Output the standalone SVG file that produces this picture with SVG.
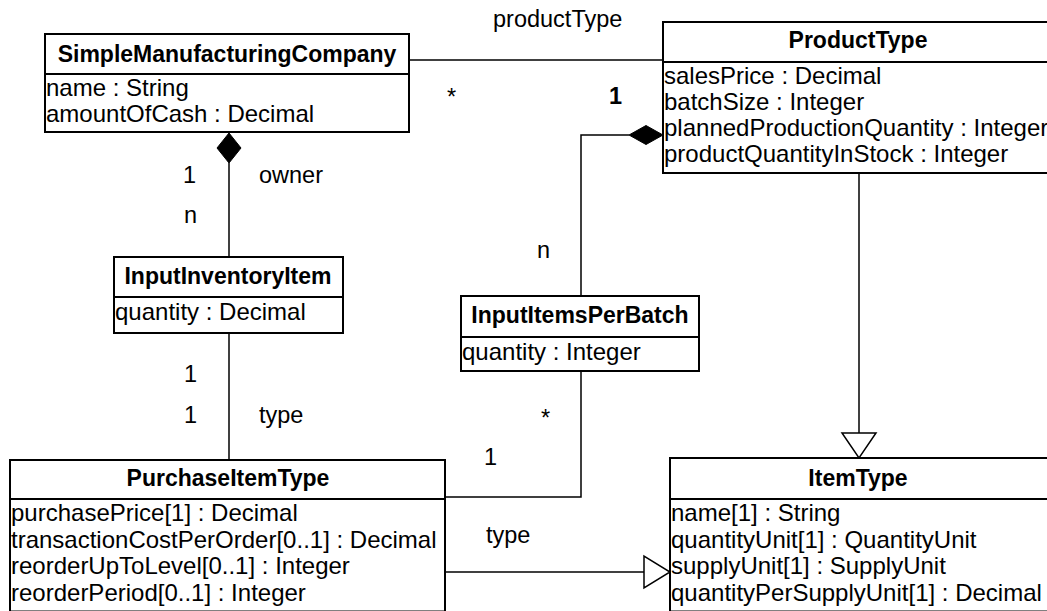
<svg xmlns="http://www.w3.org/2000/svg" width="1047" height="611" viewBox="0 0 1047 611">
  <style>
    .box { fill: #ffffff; stroke: #000000; stroke-width: 2; }
    .sep { stroke: #000000; stroke-width: 2; }
    .title { font-family: "Liberation Sans", Arial, sans-serif; font-size: 23px; font-weight: bold; text-anchor: middle; fill: #000000; }
    .attr { font-family: "Liberation Sans", Arial, sans-serif; font-size: 24px; fill: #000000; }
    .lbl { font-family: "Liberation Sans", Arial, sans-serif; font-size: 23.5px; fill: #000000; }
    .lblb { font-family: "Liberation Sans", Arial, sans-serif; font-size: 23.5px; font-weight: bold; fill: #000000; }
    .line { fill: none; stroke: #000000; stroke-width: 1.5; }
    .diamond { fill: #000000; stroke: #000000; stroke-width: 1; }
    .hollow { fill: #ffffff; stroke: #000000; stroke-width: 1.5; }
  </style>

  <!-- associations, compositions and generalizations -->
  <g id="connectors">
    <!-- SimpleManufacturingCompany to ProductType -->
    <line class="line" x1="409" y1="60" x2="663" y2="60"/>
    <!-- company owns inventory items -->
    <line class="line" x1="229" y1="163" x2="229" y2="257"/>
    <polygon class="diamond" points="229,133 241,148 229,163 217,148"/>
    <!-- inventory item type -->
    <line class="line" x1="229" y1="333" x2="229" y2="460"/>
    <!-- ProductType owns InputItemsPerBatch -->
    <polyline class="line" points="629,135 581,135 581,296"/>
    <polygon class="diamond" points="663,135 646,125.5 629,135 646,144.5"/>
    <!-- InputItemsPerBatch to PurchaseItemType -->
    <polyline class="line" points="581,371 581,497 445,497"/>
    <!-- ProductType specializes ItemType -->
    <line class="line" x1="859" y1="173" x2="859" y2="433"/>
    <polygon class="hollow" points="842,433 876,433 859,458"/>
    <!-- PurchaseItemType specializes ItemType -->
    <line class="line" x1="445" y1="572" x2="644" y2="572"/>
    <polygon class="hollow" points="644,556 644,588 670,572"/>

    <!-- role names and multiplicities -->
    <text class="lbl" x="493" y="27">productType</text>
    <text class="lbl" x="447" y="105">*</text>
    <text class="lblb" x="609" y="104">1</text>
    <text class="lbl" x="183" y="183">1</text>
    <text class="lbl" x="259" y="183">owner</text>
    <text class="lbl" x="184" y="223">n</text>
    <text class="lbl" x="537" y="258">n</text>
    <text class="lbl" x="184" y="382">1</text>
    <text class="lbl" x="184" y="423">1</text>
    <text class="lbl" x="259" y="423">type</text>
    <text class="lbl" x="541" y="426">*</text>
    <text class="lbl" x="484" y="465">1</text>
    <text class="lbl" x="486" y="543">type</text>
  </g>

  <g id="SimpleManufacturingCompany">
    <rect class="box" x="45" y="34" width="364" height="98"/>
    <line class="sep" x1="45" y1="74" x2="409" y2="74"/>
    <text class="title" x="227" y="62">SimpleManufacturingCompany</text>
    <text class="attr" x="46" y="96">name : String</text>
    <text class="attr" x="46" y="122">amountOfCash : Decimal</text>
  </g>

  <g id="ProductType">
    <rect class="box" x="663" y="22" width="400" height="151"/>
    <line class="sep" x1="663" y1="62" x2="1063" y2="62"/>
    <text class="title" x="858" y="48">ProductType</text>
    <text class="attr" x="664" y="84">salesPrice : Decimal</text>
    <text class="attr" x="664" y="110">batchSize : Integer</text>
    <text class="attr" x="664" y="136">plannedProductionQuantity : Integer</text>
    <text class="attr" x="664" y="162">productQuantityInStock : Integer</text>
  </g>

  <g id="InputInventoryItem">
    <rect class="box" x="114" y="257" width="229" height="76"/>
    <line class="sep" x1="114" y1="297" x2="343" y2="297"/>
    <text class="title" x="228" y="284">InputInventoryItem</text>
    <text class="attr" x="115" y="320">quantity : Decimal</text>
  </g>

  <g id="InputItemsPerBatch">
    <rect class="box" x="461" y="296" width="238" height="75"/>
    <line class="sep" x1="461" y1="337" x2="699" y2="337"/>
    <text class="title" x="580" y="323">InputItemsPerBatch</text>
    <text class="attr" x="462" y="360">quantity : Integer</text>
  </g>

  <g id="PurchaseItemType">
    <rect class="box" x="10" y="460" width="435" height="151.5"/>
    <line class="sep" x1="10" y1="499" x2="445" y2="499"/>
    <text class="title" x="228" y="486">PurchaseItemType</text>
    <text class="attr" x="11" y="521">purchasePrice[1] : Decimal</text>
    <text class="attr" x="11" y="547.5">transactionCostPerOrder[0..1] : Decimal</text>
    <text class="attr" x="11" y="574">reorderUpToLevel[0..1] : Integer</text>
    <text class="attr" x="11" y="600.5">reorderPeriod[0..1] : Integer</text>
  </g>

  <g id="ItemType">
    <rect class="box" x="670" y="458" width="400" height="153.5"/>
    <line class="sep" x1="670" y1="499" x2="1070" y2="499"/>
    <text class="title" x="858" y="486">ItemType</text>
    <text class="attr" x="671" y="521">name[1] : String</text>
    <text class="attr" x="671" y="547.5">quantityUnit[1] : QuantityUnit</text>
    <text class="attr" x="671" y="574">supplyUnit[1] : SupplyUnit</text>
    <text class="attr" x="671" y="600.5">quantityPerSupplyUnit[1] : Decimal</text>
  </g>
</svg>
